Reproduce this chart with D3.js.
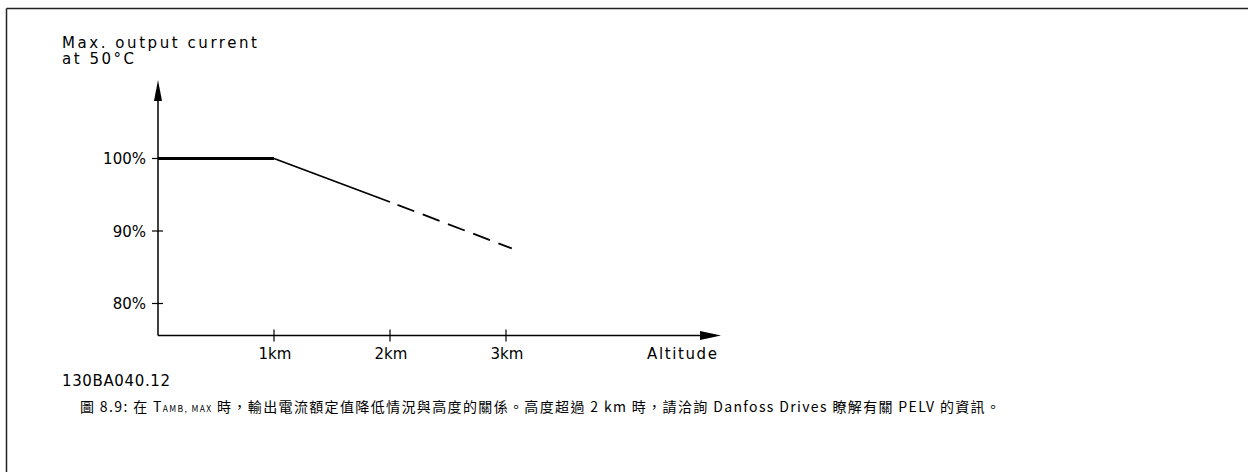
<!DOCTYPE html>
<html><head><meta charset="utf-8">
<script src="https://d3js.org/d3.v7.min.js"></script>
<style>body{margin:0;background:#fff}svg{display:block}</style>
</head><body>
<script>
const solidAlt = [0, 1, 2];
const solidVal = [100, 100, 94];
const dashAlt = [2, 3.05];
const dashVal = [94, 87.6];
const xTicks = [1, 2, 3];
const xTickLabels = ["1km", "2km", "3km"];
const yTicks = [100, 90, 80];
const yTickLabels = ["100%", "90%", "80%"];
const yTitle = ["Max. output current", "at 50°C"];
const xTitle = "Altitude";
const code = "130BA040.12";

const W = 1250, H = 472;
const svg = d3.select("body").append("svg").attr("width", W).attr("height", H);
const font = "'DejaVu Sans', sans-serif";

// stretch text horizontally with letter spacing so it spans a target width
function fit(sel, target) {
  const n = sel.text().length;
  const w = sel.node().getComputedTextLength();
  sel.style("letter-spacing", Math.max(0, (target - w) / Math.max(1, n - 1)) + "px");
  return sel;
}

// frame lines
svg.append("line").attr("x1", 6.5).attr("x2", 1248).attr("y1", 8.5).attr("y2", 8.5).attr("stroke", "#222").attr("stroke-width", 1.5);
svg.append("line").attr("x1", 6.5).attr("x2", 6.5).attr("y1", 8.5).attr("y2", H).attr("stroke", "#222").attr("stroke-width", 1.5);

const x = d3.scaleLinear().domain([0, 3]).range([158, 506]);
const y = d3.scaleLinear().domain([80, 100]).range([303.5, 158.5]);
const x0 = x(0), yAxisY = 335.5;

// axes lines
svg.append("line").attr("x1", x0).attr("x2", 705).attr("y1", yAxisY).attr("y2", yAxisY).attr("stroke", "#000").attr("stroke-width", 1.5);
svg.append("path").attr("d", `M700,${yAxisY-4.5} L721,${yAxisY} L700,${yAxisY+4.5} Z`).attr("fill", "#000");
svg.append("line").attr("x1", x0).attr("x2", x0).attr("y1", yAxisY).attr("y2", 95).attr("stroke", "#000").attr("stroke-width", 1.5);
svg.append("path").attr("d", `M${x0-4},101 L${x0},80 L${x0+4},101 Z`).attr("fill", "#000");

// ticks
svg.selectAll(".xt").data(xTicks).join("line").attr("x1", d => x(d)).attr("x2", d => x(d))
  .attr("y1", yAxisY - 6).attr("y2", yAxisY + 6).attr("stroke", "#000").attr("stroke-width", 1.2);
svg.selectAll(".xtl").data(xTicks).join("text").attr("x", d => x(d) + 1).attr("y", 359)
  .attr("text-anchor", "middle").attr("font-family", font).attr("font-size", 15)
  .text((d, i) => xTickLabels[i]);
svg.selectAll(".yt").data(yTicks).join("line").attr("y1", d => y(d)).attr("y2", d => y(d))
  .attr("x1", x0 - 6).attr("x2", x0 + 5).attr("stroke", "#000").attr("stroke-width", 1.2);
svg.selectAll(".ytl").data(yTicks).join("text").attr("x", 146).attr("y", d => y(d) + 5.5)
  .attr("text-anchor", "end").attr("font-family", font).attr("font-size", 15)
  .text((d, i) => yTickLabels[i]);

// titles
fit(svg.append("text").attr("x", 62).attr("y", 48).attr("font-family", font).attr("font-size", 15).text(yTitle[0]), 195);
fit(svg.append("text").attr("x", 62).attr("y", 64).attr("font-family", font).attr("font-size", 15).text(yTitle[1]), 72);
fit(svg.append("text").attr("x", 647).attr("y", 359).attr("font-family", font).attr("font-size", 15).text(xTitle), 70);
fit(svg.append("text").attr("x", 62).attr("y", 386).attr("font-family", font).attr("font-size", 15).text(code), 108);

// data lines
const line = d3.line().x(d => x(d[0])).y(d => y(d[1]));
const solid = solidAlt.map((a, i) => [a, solidVal[i]]);
svg.append("path").attr("d", line(solid.slice(0, 2))).attr("fill", "none").attr("stroke", "#000").attr("stroke-width", 3);
svg.append("path").attr("d", line(solid.slice(1))).attr("fill", "none").attr("stroke", "#000").attr("stroke-width", 1.8);
const dash = dashAlt.map((a, i) => [a, dashVal[i]]);
svg.append("path").attr("d", line(dash)).attr("fill", "none").attr("stroke", "#000").attr("stroke-width", 1.8).attr("stroke-dasharray", "18,9").attr("stroke-dashoffset", -8);

// caption
const cap = svg.append("text").attr("x", 80).attr("y", 412).attr("font-family", "'Noto Sans CJK TC', sans-serif").attr("font-size", 14);
cap.append("tspan").text("圖 8.9: 在 T");
cap.append("tspan").attr("font-size", 8.5).text("AMB, MAX");
cap.append("tspan").text(" 時，輸出電流額定值降低情況與高度的關係。高度超過 2 km 時，請洽詢 Danfoss Drives 瞭解有關 PELV 的資訊。");
{
  const n = cap.text().length;
  const w = cap.node().getComputedTextLength();
  cap.style("letter-spacing", Math.max(0, (920 - w) / (n - 1)) + "px");
}
</script>
</body></html>
